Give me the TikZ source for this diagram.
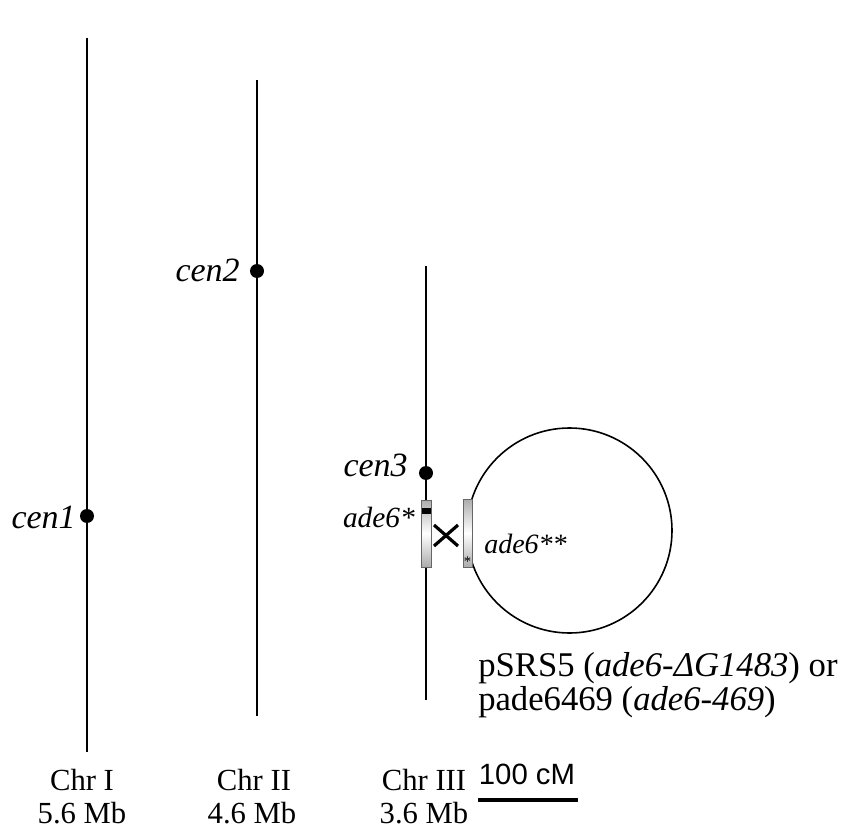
\documentclass[tikz,border=0pt]{standalone}
\usepackage{fontspec}
\setmainfont{Liberation Serif}
\newfontfamily\arialfont{Liberation Sans}
\begin{document}
\begin{tikzpicture}[x=0.75pt,y=-0.75pt]
\tikzset{
  chrthick/.style={line width=2.0pt},
  chrthin/.style={line width=1.7pt},
  cendot/.style={circle,fill=black,inner sep=0pt,minimum size=10.5pt},
  cenlabel/.style={inner sep=0pt,font=\fontsize{25.5}{30}\selectfont\itshape},
  genelabel/.style={inner sep=0pt,font=\fontsize{22}{25}\selectfont\itshape},
  chrlabel/.style={inner sep=0pt,align=center,font=\fontsize{23}{33}\selectfont},
  plasmidlabel/.style={inner sep=0pt,align=left,font=\fontsize{26}{34}\selectfont},
  genebox/.style={draw=gray!80!black,line width=0.6pt,top color=gray!65,bottom color=gray!65,middle color=white},
  crossline/.style={line width=2.4pt},
}
\useasboundingbox (0,0) rectangle (850,834);

% chromosome I
\coordinate (c1top) at (87,38);
\coordinate (c1bot) at (87,752);
\draw[chrthick] (c1top) -- (c1bot);
\node[cendot] (cen1) at (87,516) {};
\node[cenlabel,anchor=base east] (cen1lab) at (76,528) {cen1};

% chromosome II
\coordinate (c2top) at (257,80);
\coordinate (c2bot) at (257,716);
\draw[chrthin] (c2top) -- (c2bot);
\node[cendot] (cen2) at (257,271) {};
\node[cenlabel,anchor=base east] (cen2lab) at (240,282) {cen2};

% chromosome III
\coordinate (c3top) at (426,266);
\coordinate (c3bot) at (426,700);
\draw[chrthin] (c3top) -- (c3bot);
\node[cendot] (cen3) at (426,473) {};
\node[cenlabel,anchor=base east] (cen3lab) at (408,476) {cen3};

% chromosomal ade6 allele
\shade[genebox] (421,500) rectangle (431,567);
\node[inner sep=0pt] (ade6chr) at (426,533.5) {};
\fill (421.5,508) rectangle (430.5,513.5);
\node[genelabel,anchor=base east] (ade6lab) at (415,527) {ade6*};

% plasmid circle and its ade6 allele
\node[draw,circle,line width=1.2pt,minimum size=205*0.75pt,inner sep=0pt] (plasmid) at (569.5,530.5) {};
\shade[genebox] (463,499) rectangle (472,567);
\node[inner sep=0pt,font=\fontsize{11}{11}\selectfont] (star) at (467.5,562) {*};
\node[genelabel,anchor=base west,font=\fontsize{21}{25}\selectfont\itshape] (ade6plab) at (484,553) {ade6**};

% crossover mark
\coordinate (xa) at (434,525);
\coordinate (xb) at (458,546);
\coordinate (xc) at (434,546);
\coordinate (xd) at (458,525);
\draw[crossline] (xa) -- (xb);
\draw[crossline] (xc) -- (xd);

% plasmid names
\node[plasmidlabel,anchor=base west] (plab1) at (478,676) {pSRS5 (\textit{ade6-ΔG1483}) or};
\node[plasmidlabel,anchor=base west] (plab2) at (478,710) {pade6469 (\textit{ade6-469})};

% chromosome names and sizes
\node[chrlabel,anchor=base] (chr1) at (82,790) {Chr I};
\node[chrlabel,anchor=base] (mb1) at (82,823) {5.6 Mb};
\node[chrlabel,anchor=base] (chr2) at (254,790) {Chr II};
\node[chrlabel,anchor=base] (mb2) at (252,823) {4.6 Mb};
\node[chrlabel,anchor=base] (chr3) at (424,790) {Chr III};
\node[chrlabel,anchor=base] (mb3) at (424,823) {3.6 Mb};

% scale bar
\coordinate (sbl) at (478,800);
\coordinate (sbr) at (578,800);
\draw[line width=3pt] (sbl) -- (sbr);
\node[inner sep=0pt,anchor=base,font=\arialfont\fontsize{22}{26}\selectfont] (sblab) at (527,784) {100 cM};
\end{tikzpicture}
\end{document}
